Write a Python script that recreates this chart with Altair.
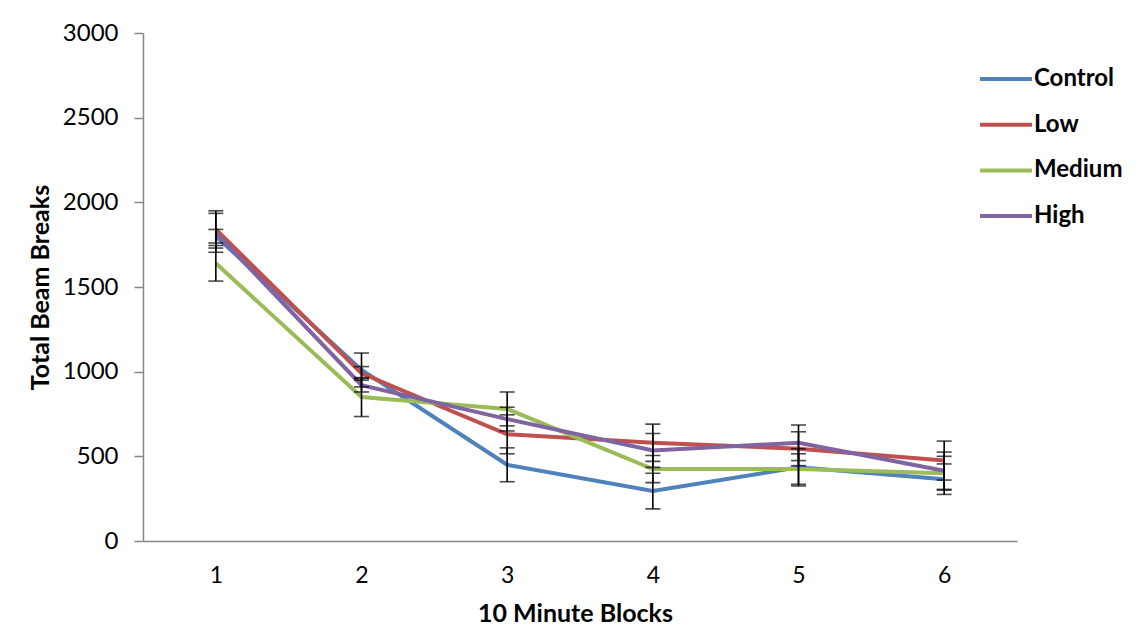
import altair as alt
import pandas as pd

blocks = [1, 2, 3, 4, 5, 6]
series = ["Control", "Low", "Medium", "High"]
colors = ["#4F81BD", "#C0504D", "#9BBB59", "#8064A2"]

control = [1800, 1010, 450, 295, 435, 365]
low = [1840, 990, 630, 580, 545, 475]
medium = [1640, 850, 780, 425, 425, 400]
high = [1820, 920, 720, 535, 580, 415]

control_err = [40, 100, 100, 105, 110, 90]
low_err = [110, 40, 115, 110, 100, 115]
medium_err = [105, 115, 100, 80, 90, 100]
high_err = [115, 40, 70, 100, 105, 110]

vals = {"Control": control, "Low": low, "Medium": medium, "High": high}
errs = {"Control": control_err, "Low": low_err, "Medium": medium_err, "High": high_err}

rows = []
for s in series:
    for b, v, e in zip(blocks, vals[s], errs[s]):
        rows.append({"Block": b, "Group": s, "Value": v, "Lo": v - e, "Hi": v + e})
df = pd.DataFrame(rows)

FONT = "Lato"

xenc = alt.X(
    "Block:O",
    scale=alt.Scale(type="point", padding=0.5),
    axis=alt.Axis(
        title="10 Minute Blocks",
        labelAngle=0,
        ticks=False,
        labelPadding=23,
        labelFontSize=23,
        labelColor="#000000",
        labelFont=FONT,
        titleFont=FONT,
        titleFontSize=25,
        titleFontWeight="bold",
        titleColor="#000000",
        titleX=432,
        titleY=72,
        titleAlign="center",
        titleBaseline="middle",
        domainColor="#868686",
        domainWidth=1.5,
    ),
)

yenc = alt.Y(
    "Value:Q",
    scale=alt.Scale(domain=[0, 3000], nice=False),
    axis=alt.Axis(
        title="Total Beam Breaks",
        values=[0, 500, 1000, 1500, 2000, 2500, 3000],
        format="d",
        grid=False,
        tickSize=9,
        tickColor="#868686",
        tickWidth=1.5,
        labelPadding=16,
        labelFontSize=24,
        labelColor="#000000",
        labelFont=FONT,
        titleFont=FONT,
        titleFontSize=25,
        titleFontWeight="bold",
        titleColor="#000000",
        titleAngle=-90,
        titleX=-103,
        titleY=254,
        titleAlign="center",
        titleBaseline="middle",
        domainColor="#868686",
        domainWidth=1.5,
    ),
)

base = alt.Chart(df)

lines = base.mark_line(strokeWidth=4).encode(
    x=xenc,
    y=yenc,
    color=alt.Color(
        "Group:N",
        scale=alt.Scale(domain=series, range=colors),
        legend=alt.Legend(
            title=None,
            orient="none",
            legendX=841,
            legendY=24,
            symbolType="M-1.3,0L1.3,0",
            symbolSize=1600,
            symbolStrokeWidth=4,
            rowPadding=11.7,
            labelOffset=6,
            labelFont=FONT,
            labelFontSize=24,
            labelFontWeight="bold",
            labelColor="#000000",
            padding=0,
        ),
    ),
    order=alt.Order("Block:O"),
)

rules = base.mark_rule(color="#000000", strokeWidth=1.6).encode(
    x="Block:O", y="Lo:Q", y2="Hi:Q"
)
cap_lo = base.mark_tick(color="#000000", size=15, thickness=1.6, orient="horizontal").encode(
    x="Block:O", y="Lo:Q"
)
cap_hi = base.mark_tick(color="#000000", size=15, thickness=1.6, orient="horizontal").encode(
    x="Block:O", y="Hi:Q"
)

chart = (
    alt.layer(lines, rules, cap_lo, cap_hi)
    .properties(
        width=874,
        height=508,
        autosize=alt.AutoSizeParams(type="none"),
        padding={"left": 135, "top": 25, "right": 110, "bottom": 86},
        background="#ffffff",
    )
    .configure_view(stroke=None)
)

chart.save("out.html", embed_options={"renderer": "svg", "actions": False})
